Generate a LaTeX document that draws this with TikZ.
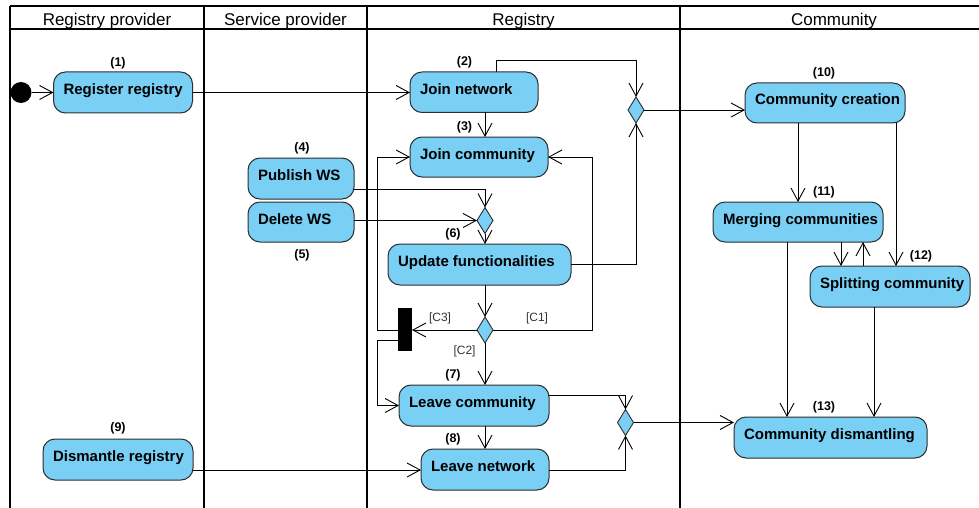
\documentclass[tikz,border=0pt]{standalone}
\usepackage{fontspec}
\setmainfont{Liberation Sans}
\usetikzlibrary{arrows.meta,shapes.geometric}
\definecolor{actblue}{RGB}{122,207,245}
\definecolor{actborder}{RGB}{45,45,45}
\newcommand\actbox[6]{%
  \pgfmathsetmacro\actw{#4-#2}%
  \pgfmathsetmacro\acth{#5-#3}%
  \pgfmathsetmacro\acttw{#4-#2-20}%
  \node[act, minimum width=\actw pt, minimum height=\acth pt] (#1) at ({(#2+#4)/2},{(#3+#5)/2}) {\makebox[\acttw pt][l]{#6}};}
\tikzset{
  act/.style={draw=actborder, line width=1pt, fill=actblue, rounded corners=12pt,
    inner xsep=10pt, inner ysep=0pt, outer sep=0pt, text height=11pt, text depth=7pt,
    font=\bfseries\fontsize{15}{18}\selectfont},
  dia/.style={diamond, draw=actborder, line width=0.9pt, fill=actblue, minimum width=16pt,
    minimum height=26pt, inner sep=0pt, outer sep=0pt},
  num/.style={font=\bfseries\fontsize{12.5}{14}\selectfont, inner sep=0pt},
  cond/.style={font=\fontsize{12}{14}\selectfont, text=black!80, inner sep=0pt},
  lanehead/.style={font=\fontsize{17}{19}\selectfont, anchor=base, inner sep=0pt},
  lane/.style={line width=1.2pt, black},
  arr/.style={line width=0.9pt, -{Straight Barb[length=13pt,width=14pt,line width=0.9pt]}},
}
\begin{document}
\begin{tikzpicture}[x=1pt,y=-1pt]
\useasboundingbox (0,0) rectangle (979,508);
% swimlanes
\draw[lane] (10,6) -- (979,6);
\draw[lane] (10,29) -- (979,29);
\foreach \lx in {10,204,367,680} \draw[lane] (\lx,6) -- (\lx,508);
\node[lanehead] (h1) at (107,25.7) {Registry provider};
\node[lanehead] (h2) at (285.5,25.7) {Service provider};
\node[lanehead] (h3) at (523.5,25.7) {Registry};
\node[lanehead] (h4) at (834,25.7) {Community};
% activities
\actbox{rr}{53.5}{72}{192.5}{113}{Register registry}
\actbox{jn}{410}{72}{538}{112.5}{Join network}
\actbox{jc}{410}{137}{548}{177}{Join community}
\actbox{pub}{248}{158}{354}{199}{Publish WS}
\actbox{del}{248}{202}{354}{242}{Delete WS}
\actbox{uf}{388}{244}{571}{285}{Update functionalities}
\actbox{lc}{399}{385}{549}{426}{Leave community}
\actbox{ln}{421}{449}{549}{490}{Leave network}
\actbox{dr}{43}{439}{193}{480}{Dismantle registry}
\actbox{cc}{745}{83}{905}{123}{Community creation}
\actbox{mc}{713}{202}{883}{242}{Merging communities}
\actbox{sc}{810}{266}{970}{307}{Splitting community}
\actbox{cd}{734}{417}{927}{458}{Community dismantling}
% control nodes
\node[circle, fill=black, minimum size=21pt, inner sep=0pt, outer sep=0pt] (init) at (21,92.5) {};
\node[dia] (dtop) at (636,110) {};
\node[dia] (d1) at (485,220.5) {};
\node[dia] (d2) at (485,330) {};
\node[dia] (d3) at (625.5,422.5) {};
\node[fill=black, minimum width=14pt, minimum height=43pt, inner sep=0pt, outer sep=0pt] (bar) at (405,329.5) {};
% numbers
\node[num] (n1) at (118,63) {(1)};
\node[num] (n2) at (464.5,62) {(2)};
\node[num] (n3) at (464.5,127) {(3)};
\node[num] (n4) at (302,148) {(4)};
\node[num] (n5) at (302,255) {(5)};
\node[num] (n6) at (453,234) {(6)};
\node[num] (n7) at (453,375) {(7)};
\node[num] (n8) at (453,439) {(8)};
\node[num] (n9) at (118,428) {(9)};
\node[num] (n10) at (824,73) {(10)};
\node[num] (n11) at (824,192) {(11)};
\node[num] (n12) at (921,256) {(12)};
\node[num] (n13) at (824,407) {(13)};
\node[cond] (c3) at (440,318) {[C3]};
\node[cond] (c1) at (537,318) {[C1]};
\node[cond] (c2) at (464.5,351) {[C2]};
% connectors
\draw[arr] (init.east) -- (init.east -| rr.west);
\draw[arr] (rr.east) -- (rr.east -| jn.west);
\draw[arr] (jn.north -| 496,0) -- (496,60) -| (dtop.north);
\draw[arr] (uf.east) -| (dtop.south);
\draw[arr] (dtop.east) -- (dtop.east -| cc.west);
\draw[arr] (jn.south -| 485,0) -- (jc.north -| 485,0);
\draw[arr] (pub.east |- 0,189) -| (d1.north);
\draw[arr] (del.east |- d1.west) -- (d1.west);
\draw[arr] (d1.south) -- (uf.north -| d1.south);
\draw[arr] (uf.south -| d2.north) -- (d2.north);
\draw[arr] (d2.west) -- (d2.west -| bar.east);
\draw[arr] (d2.east) -- (592,330) |- (jc.east);
\draw[arr] (bar.west |- 0,330) -- (377,330) |- (jc.west);
\draw[arr] (bar.west |- 0,340) -- (377,340) |- (lc.west);
\draw[arr] (d2.south) -- (d2.south |- lc.north);
\draw[arr] (lc.south -| 485,0) -- (ln.north -| 485,0);
\draw[arr] (lc.east |- 0,395) -| (d3.north);
\draw[arr] (ln.east |- 0,470) -| (d3.south);
\draw[arr] (d3.east) -- (d3.east -| cd.west);
\draw[arr] (dr.east |- 0,470) -- (ln.west |- 0,470);
\draw[arr] (cc.south -| 798,0) -- (mc.north -| 798,0);
\draw[arr] (cc.south -| 896,0) -- (sc.north -| 896,0);
\draw[arr] (mc.south -| 841,0) -- (sc.north -| 841,0);
\draw[arr] (sc.north -| 863,0) -- (mc.south -| 863,0);
\draw[arr] (mc.south -| 787,0) -- (cd.north -| 787,0);
\draw[arr] (sc.south -| 874,0) -- (cd.north -| 874,0);
\end{tikzpicture}
\end{document}
